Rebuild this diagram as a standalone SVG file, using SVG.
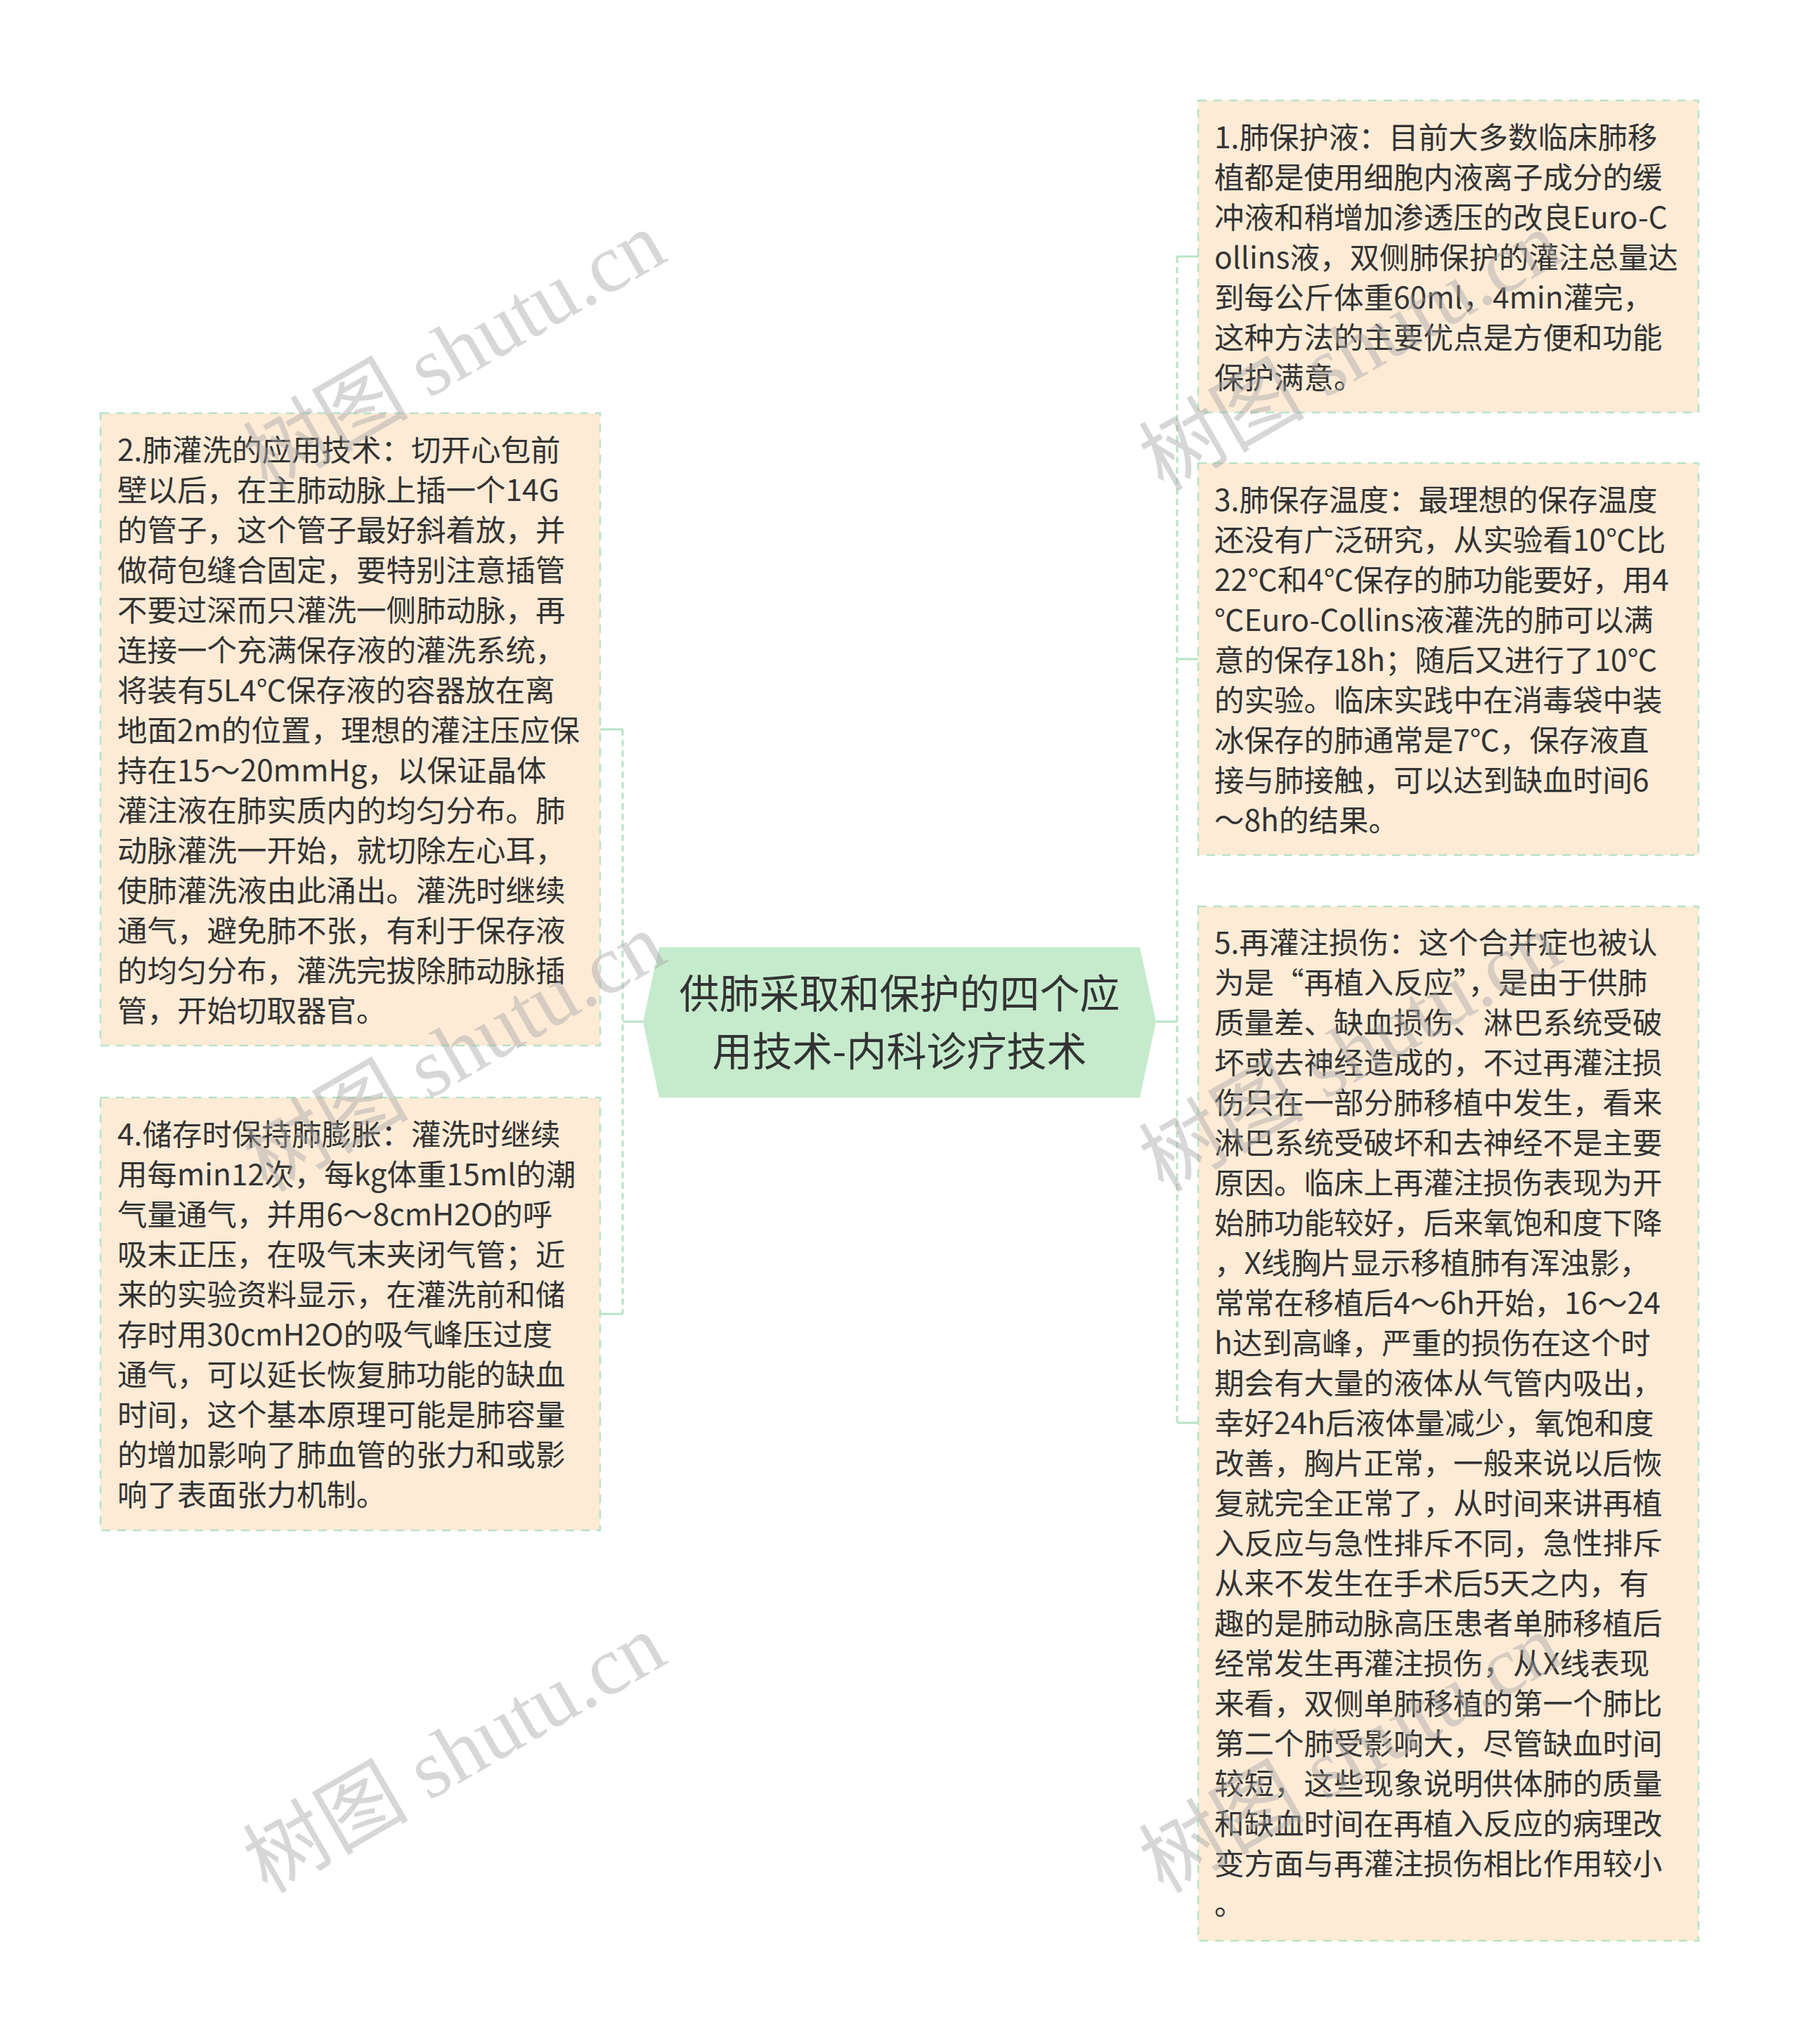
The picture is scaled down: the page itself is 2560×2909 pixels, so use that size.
<svg xmlns="http://www.w3.org/2000/svg" width="2560" height="2909" viewBox="0 0 2560 2909">
<style>
.box{fill:#FDEBD6;stroke:#B7E3C5;stroke-width:2.5;stroke-dasharray:12 10}
.t{font-family:"Noto Sans CJK SC","Noto Sans",sans-serif;font-size:42.5px;fill:#333333}
.ct{font-family:"Noto Sans CJK SC","Noto Sans",sans-serif;font-size:57px;fill:#333333;text-anchor:middle}
.ln{fill:none;stroke:#B7E3C5;stroke-width:3}
.dl{fill:none;stroke:#B7E3C5;stroke-width:3;stroke-dasharray:9 6}
.wm{font-family:"Liberation Serif","Noto Sans CJK SC",serif;font-size:118px;fill:#a8a8a8;opacity:0.45}
</style>
<rect width="2560" height="2909" fill="#ffffff"/>
<g id="connectors">
<path class="dl" d="M886 1038 V1870"/>
<path class="ln" d="M854 1038 H886 M854 1870 H886 M886 1454 H915"/>
<path class="dl" d="M1675 365 V2025"/>
<path class="ln" d="M1675 365 H1705 M1675 938 H1705 M1675 2025 H1705 M1645 1454 H1675"/>
</g>
<g id="center">
<polygon points="938,1348 1622,1348 1645,1454 1622,1562 938,1562 915,1454" fill="#C5EBCC"/>
<text class="ct"><tspan x="1280" y="1435">供肺采取和保护的四个应</tspan><tspan x="1280" y="1517">用技术-内科诊疗技术</tspan></text>
</g>
<g id="node1">
<rect class="box" x="1705" y="143" width="712" height="444"/>
<text class="t">
<tspan x="1728" y="211">1.肺保护液：目前大多数临床肺移</tspan>
<tspan x="1728" y="268">植都是使用细胞内液离子成分的缓</tspan>
<tspan x="1728" y="325">冲液和稍增加渗透压的改良Euro-C</tspan>
<tspan x="1728" y="382">ollins液，双侧肺保护的灌注总量达</tspan>
<tspan x="1728" y="439">到每公斤体重60ml，4min灌完，</tspan>
<tspan x="1728" y="496">这种方法的主要优点是方便和功能</tspan>
<tspan x="1728" y="553">保护满意。</tspan>
</text>
</g>
<g id="node3">
<rect class="box" x="1705" y="659" width="712" height="558"/>
<text class="t">
<tspan x="1728" y="727">3.肺保存温度：最理想的保存温度</tspan>
<tspan x="1728" y="784">还没有广泛研究，从实验看10℃比</tspan>
<tspan x="1728" y="841">22℃和4℃保存的肺功能要好，用4</tspan>
<tspan x="1728" y="898">℃Euro-Collins液灌洗的肺可以满</tspan>
<tspan x="1728" y="955">意的保存18h；随后又进行了10℃</tspan>
<tspan x="1728" y="1012">的实验。临床实践中在消毒袋中装</tspan>
<tspan x="1728" y="1069">冰保存的肺通常是7℃，保存液直</tspan>
<tspan x="1728" y="1126">接与肺接触，可以达到缺血时间6</tspan>
<tspan x="1728" y="1183">～8h的结果。</tspan>
</text>
</g>
<g id="node5">
<rect class="box" x="1705" y="1290" width="712" height="1472"/>
<text class="t">
<tspan x="1728" y="1357">5.再灌注损伤：这个合并症也被认</tspan>
<tspan x="1728" y="1414">为是“再植入反应”，是由于供肺</tspan>
<tspan x="1728" y="1471">质量差、缺血损伤、淋巴系统受破</tspan>
<tspan x="1728" y="1528">坏或去神经造成的，不过再灌注损</tspan>
<tspan x="1728" y="1585">伤只在一部分肺移植中发生，看来</tspan>
<tspan x="1728" y="1642">淋巴系统受破坏和去神经不是主要</tspan>
<tspan x="1728" y="1699">原因。临床上再灌注损伤表现为开</tspan>
<tspan x="1728" y="1756">始肺功能较好，后来氧饱和度下降</tspan>
<tspan x="1728" y="1813">，X线胸片显示移植肺有浑浊影，</tspan>
<tspan x="1728" y="1870">常常在移植后4～6h开始，16～24</tspan>
<tspan x="1728" y="1927">h达到高峰，严重的损伤在这个时</tspan>
<tspan x="1728" y="1984">期会有大量的液体从气管内吸出，</tspan>
<tspan x="1728" y="2041">幸好24h后液体量减少，氧饱和度</tspan>
<tspan x="1728" y="2098">改善，胸片正常，一般来说以后恢</tspan>
<tspan x="1728" y="2155">复就完全正常了，从时间来讲再植</tspan>
<tspan x="1728" y="2212">入反应与急性排斥不同，急性排斥</tspan>
<tspan x="1728" y="2269">从来不发生在手术后5天之内，有</tspan>
<tspan x="1728" y="2326">趣的是肺动脉高压患者单肺移植后</tspan>
<tspan x="1728" y="2383">经常发生再灌注损伤，从X线表现</tspan>
<tspan x="1728" y="2440">来看，双侧单肺移植的第一个肺比</tspan>
<tspan x="1728" y="2497">第二个肺受影响大，尽管缺血时间</tspan>
<tspan x="1728" y="2554">较短，这些现象说明供体肺的质量</tspan>
<tspan x="1728" y="2611">和缺血时间在再植入反应的病理改</tspan>
<tspan x="1728" y="2668">变方面与再灌注损伤相比作用较小</tspan>
<tspan x="1728" y="2725">。</tspan>
</text>
</g>
<g id="node2">
<rect class="box" x="143" y="588" width="711" height="900"/>
<text class="t">
<tspan x="167" y="656">2.肺灌洗的应用技术：切开心包前</tspan>
<tspan x="167" y="713">壁以后，在主肺动脉上插一个14G</tspan>
<tspan x="167" y="770">的管子，这个管子最好斜着放，并</tspan>
<tspan x="167" y="827">做荷包缝合固定，要特别注意插管</tspan>
<tspan x="167" y="884">不要过深而只灌洗一侧肺动脉，再</tspan>
<tspan x="167" y="941">连接一个充满保存液的灌洗系统，</tspan>
<tspan x="167" y="998">将装有5L4℃保存液的容器放在离</tspan>
<tspan x="167" y="1055">地面2m的位置，理想的灌注压应保</tspan>
<tspan x="167" y="1112">持在15～20mmHg，以保证晶体</tspan>
<tspan x="167" y="1169">灌注液在肺实质内的均匀分布。肺</tspan>
<tspan x="167" y="1226">动脉灌洗一开始，就切除左心耳，</tspan>
<tspan x="167" y="1283">使肺灌洗液由此涌出。灌洗时继续</tspan>
<tspan x="167" y="1340">通气，避免肺不张，有利于保存液</tspan>
<tspan x="167" y="1397">的均匀分布，灌洗完拔除肺动脉插</tspan>
<tspan x="167" y="1454">管，开始切取器官。</tspan>
</text>
</g>
<g id="node4">
<rect class="box" x="143" y="1562" width="711" height="616"/>
<text class="t">
<tspan x="167" y="1630">4.储存时保持肺膨胀：灌洗时继续</tspan>
<tspan x="167" y="1687">用每min12次，每kg体重15ml的潮</tspan>
<tspan x="167" y="1744">气量通气，并用6～8cmH2O的呼</tspan>
<tspan x="167" y="1801">吸末正压，在吸气末夹闭气管；近</tspan>
<tspan x="167" y="1858">来的实验资料显示，在灌洗前和储</tspan>
<tspan x="167" y="1915">存时用30cmH2O的吸气峰压过度</tspan>
<tspan x="167" y="1972">通气，可以延长恢复肺功能的缺血</tspan>
<tspan x="167" y="2029">时间，这个基本原理可能是肺容量</tspan>
<tspan x="167" y="2086">的增加影响了肺血管的张力和或影</tspan>
<tspan x="167" y="2143">响了表面张力机制。</tspan>
</text>
</g>
<g id="watermarks">
<text class="wm" transform="translate(380,700) rotate(-30)">树图 shutu.cn</text>
<text class="wm" transform="translate(380,1698) rotate(-30)">树图 shutu.cn</text>
<text class="wm" transform="translate(380,2696) rotate(-30)">树图 shutu.cn</text>
<text class="wm" transform="translate(1655,700) rotate(-30)">树图 shutu.cn</text>
<text class="wm" transform="translate(1655,1698) rotate(-30)">树图 shutu.cn</text>
<text class="wm" transform="translate(1655,2696) rotate(-30)">树图 shutu.cn</text>
</g>
</svg>
